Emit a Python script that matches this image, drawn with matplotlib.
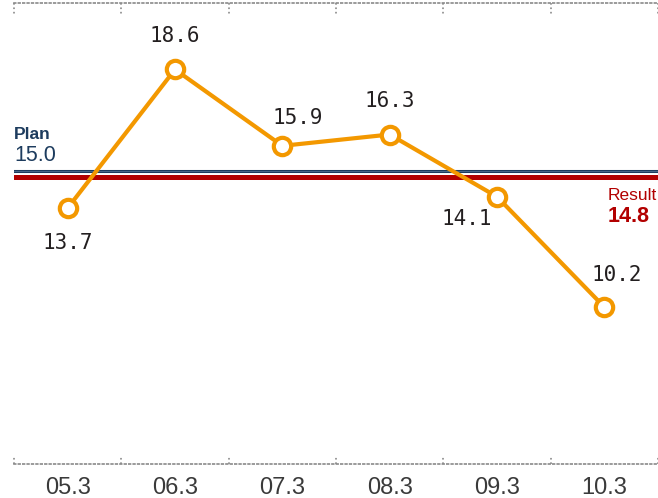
import matplotlib.pyplot as plt
import matplotlib.transforms as mtransforms
import numpy as np

# dados
periods = ['05.3', '06.3', '07.3', '08.3', '09.3', '10.3']
values = [13.7, 18.6, 15.9, 16.3, 14.1, 10.2]
plan_value = 15.0
result_value = 14.8

orange = '#f39800'
navy = '#1d3c5e'
red = '#b20000'
gray = '#8a8a8a'

fig = plt.figure(figsize=(6.58, 4.98), dpi=100)
ax = fig.add_axes([14 / 658, 34 / 498, 644 / 658, 461 / 498])

x = np.arange(len(periods))
ax.set_xlim(-0.5, len(periods) - 0.5)
ax.set_ylim(4.65, 20.95)

# linhas de plano e resultado
ax.axhline(plan_value, color=navy, lw=2.2, zorder=2)
ax.axhline(plan_value, color='#4f6f90', lw=0.6, zorder=2)
ax.axhline(result_value, color=red, lw=3.6, solid_capstyle='round', zorder=2)

# série principal
ax.plot(x, values, color=orange, lw=3, zorder=3)
ax.plot(x, values, 'o', ms=12.5, mfc='white', mec=orange, mew=3, zorder=4)

# rótulos dos pontos (dx, dy em pontos)
offsets = [(0, -25), (0, 24), (11, 20), (0, 24), (-22, -16), (9, 23)]
for xi, v, (dx, dy) in zip(x, values, offsets):
    ax.annotate(f'{v:.1f}', (xi, v), xytext=(dx, dy), textcoords='offset points',
                ha='center', va='center', fontsize=15, family='DejaVu Sans Mono',
                color='#231f20', zorder=5)

# textos das linhas de referência
ax.text(-0.5, plan_value + 1.31, 'Plan', color=navy, fontsize=12.5,
        family='Liberation Sans', fontweight='bold', ha='left', va='center')
ax.text(-0.5, plan_value + 0.57, f'{plan_value:.1f}', color=navy, fontsize=15.5,
        family='Liberation Sans', ha='left', va='center')
ax.text(5.03, result_value - 0.67, 'Result', color=red, fontsize=12.5,
        family='Liberation Sans', ha='left', va='center')
ax.text(5.03, result_value - 1.41, f'{result_value:.1f}', color=red,
        fontsize=15.5, family='Liberation Sans', fontweight='bold',
        ha='left', va='center')

# eixos: linhas pontilhadas em cima e embaixo
for s in ['left', 'right']:
    ax.spines[s].set_visible(False)
for s in ['top', 'bottom']:
    ax.spines[s].set_linestyle(':')
    ax.spines[s].set_color(gray)
    ax.spines[s].set_linewidth(1.2)

trans = mtransforms.blended_transform_factory(ax.transData, ax.transAxes)
for b in np.arange(-0.5, len(periods) - 0.4, 1.0):
    ax.plot([b, b], [1, 0.975], transform=trans, color=gray, ls=':', lw=1.2,
            clip_on=False)
    ax.plot([b, b], [0, 0.018], transform=trans, color=gray, ls=':', lw=1.2,
            clip_on=False)

ax.set_yticks([])
ax.set_xticks(x)
ax.set_xticklabels(periods, fontsize=17, family='Liberation Sans', color='#3a3a3a')
ax.tick_params(axis='x', length=0, pad=9)

fig.savefig('out.png', dpi=100)
